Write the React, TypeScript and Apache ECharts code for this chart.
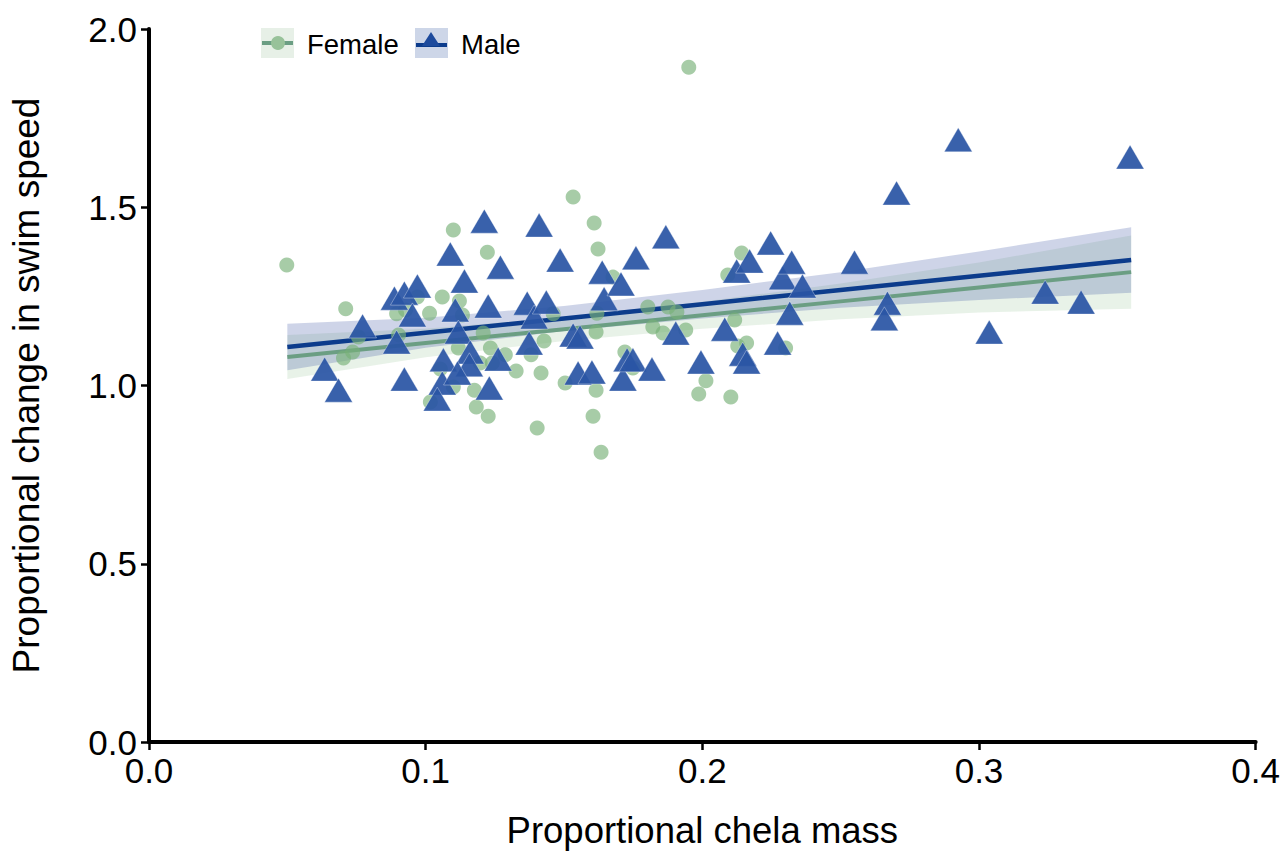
import React, { useEffect, useRef } from "react";
import * as echarts from "echarts";

// ---- Data ----
const femaleX = [0.0498, 0.0711, 0.0703, 0.0736, 0.0757, 0.0902, 0.0895, 0.0927, 0.097, 0.106, 0.1014, 0.11, 0.1133, 0.1122, 0.1053, 0.1017, 0.11, 0.1118, 0.1176, 0.1183, 0.1226, 0.1197, 0.1234, 0.1241, 0.1288, 0.1223, 0.1208, 0.1327, 0.1381, 0.1417, 0.1428, 0.1403, 0.1461, 0.1504, 0.1533, 0.1609, 0.1623, 0.1619, 0.1616, 0.1616, 0.1605, 0.1634, 0.1677, 0.172, 0.1749, 0.1803, 0.1821, 0.1858, 0.1876, 0.1908, 0.194, 0.1951, 0.1987, 0.2013, 0.2092, 0.2117, 0.2103, 0.2128, 0.2142, 0.216, 0.2301];
const femaleY = [1.338, 1.215, 1.077, 1.094, 1.136, 1.142, 1.201, 1.212, 1.248, 1.248, 1.203, 1.436, 1.198, 1.237, 1.046, 0.954, 0.996, 1.105, 0.987, 0.94, 0.914, 1.063, 1.105, 1.063, 1.086, 1.374, 1.147, 1.041, 1.086, 1.035, 1.125, 0.881, 1.201, 1.007, 1.529, 1.456, 1.383, 1.203, 1.15, 0.987, 0.914, 0.813, 1.304, 1.094, 1.049, 1.22, 1.164, 1.147, 1.22, 1.206, 1.156, 1.893, 0.976, 1.013, 1.31, 1.184, 0.968, 1.111, 1.372, 1.119, 1.105];

const maleX = [0.0635, 0.0685, 0.0772, 0.0887, 0.0923, 0.097, 0.0952, 0.0895, 0.0923, 0.1064, 0.106, 0.1042, 0.1089, 0.114, 0.1107, 0.1118, 0.1161, 0.1158, 0.1115, 0.1212, 0.1226, 0.127, 0.123, 0.1262, 0.1367, 0.1392, 0.1374, 0.141, 0.1436, 0.1486, 0.1533, 0.1558, 0.1551, 0.1601, 0.1638, 0.1645, 0.1706, 0.1728, 0.1713, 0.1749, 0.176, 0.1818, 0.1868, 0.1904, 0.1995, 0.2081, 0.2124, 0.2171, 0.2146, 0.216, 0.2247, 0.2272, 0.229, 0.2323, 0.2316, 0.2362, 0.255, 0.2669, 0.2658, 0.2702, 0.2925, 0.3037, 0.3239, 0.3369, 0.3546];
const maleY = [1.046, 0.987, 1.167, 1.245, 1.259, 1.279, 1.198, 1.122, 1.018, 1.072, 1.007, 0.962, 1.369, 1.293, 1.212, 1.15, 1.094, 1.058, 1.035, 1.461, 1.223, 1.332, 0.993, 1.074, 1.231, 1.192, 1.119, 1.45, 1.234, 1.352, 1.142, 1.136, 1.035, 1.038, 1.318, 1.243, 1.285, 1.072, 1.018, 1.072, 1.358, 1.046, 1.417, 1.147, 1.066, 1.158, 1.321, 1.349, 1.088, 1.066, 1.4, 1.119, 1.302, 1.346, 1.203, 1.279, 1.346, 1.231, 1.187, 1.54, 1.689, 1.15, 1.262, 1.234, 1.641];

const fitX = [0.05, 0.1, 0.15, 0.2, 0.25, 0.3, 0.355];
const maleFit = [1.108, 1.148, 1.188, 1.228, 1.268, 1.308, 1.352];
const maleLo = [1.043, 1.106, 1.153, 1.188, 1.218, 1.24, 1.26];
const maleHi = [1.173, 1.19, 1.223, 1.268, 1.318, 1.376, 1.444];
const femaleFit = [1.08, 1.119, 1.158, 1.197, 1.236, 1.275, 1.318];
const femaleLo = [1.018, 1.079, 1.125, 1.159, 1.186, 1.205, 1.215];
const femaleHi = [1.142, 1.159, 1.191, 1.235, 1.286, 1.345, 1.421];

const xTicks = [0, 0.1, 0.2, 0.3, 0.4];
const yTicks = [0, 0.5, 1, 1.5, 2];
const seriesNames = ["Female", "Male"];
const xTitle = "Proportional chela mass";
const yTitle = "Proportional change in swim speed";

const FONT = "'Liberation Sans', Arial, Helvetica, sans-serif";
const F_POINT = "#78b078";
const M_POINT = "#2a55a5";
const F_LINE = "#6b9e83";
const M_LINE = "#0c3c8c";
const F_BAND = "rgba(120,180,120,0.17)";
const M_BAND = "rgba(30,60,150,0.22)";

const zip = (a: number[], b: number[]) => a.map((v, i) => [v, b[i]]);

function bandSeries(lo: number[], hi: number[], color: string, z: number) {
  return {
    type: "custom",
    silent: true,
    z,
    data: fitX.map((x, i) => [x, lo[i], hi[i]]),
    encode: { x: 0, y: [1, 2] },
    renderItem: (params: any, api: any) => {
      if (params.dataIndex !== 0) return null;
      const top = fitX.map((x, i) => api.coord([x, hi[i]]));
      const bot = fitX.map((x, i) => api.coord([x, lo[i]])).reverse();
      return {
        type: "polygon",
        shape: { points: top.concat(bot) },
        style: { fill: color },
      };
    },
  };
}

export default function App() {
  const ref = useRef<HTMLDivElement>(null);
  useEffect(() => {
    if (!ref.current) return;
    const chart = echarts.init(ref.current, undefined, { renderer: "svg" });
    const axisCommon = {
      type: "value" as const,
      splitLine: { show: false },
      axisLine: { show: true, lineStyle: { color: "#000", width: 4 } },
      axisTick: { show: true, inside: false, length: 8, lineStyle: { color: "#000", width: 2.5 } },
      axisLabel: {
        color: "#000",
        fontSize: 35,
        fontFamily: FONT,
        margin: 12,
        formatter: (v: number) => v.toFixed(1),
      },
      nameLocation: "middle" as const,
    };
    chart.setOption({
      animation: false,
      backgroundColor: "#fff",
      grid: { left: 148, right: 26, top: 29, bottom: 114, containLabel: false },
      xAxis: {
        ...axisCommon,
        min: xTicks[0],
        max: xTicks[xTicks.length - 1],
        interval: 0.1,
        name: xTitle,
        nameGap: 70,
        nameTextStyle: { color: "#000", fontSize: 36.5, fontFamily: FONT },
        axisLabel: { ...axisCommon.axisLabel, margin: 11 },
      },
      yAxis: {
        ...axisCommon,
        min: yTicks[0],
        max: yTicks[yTicks.length - 1],
        interval: 0.5,
        name: yTitle,
        nameGap: 104,
        nameTextStyle: { color: "#000", fontSize: 37, fontFamily: FONT },
      },
      series: [
        bandSeries(femaleLo, femaleHi, F_BAND, 1),
        bandSeries(maleLo, maleHi, M_BAND, 1),
        {
          type: "line",
          name: "fFit",
          data: zip(fitX, femaleFit),
          symbol: "none",
          lineStyle: { color: F_LINE, width: 4 },
          z: 2,
        },
        {
          type: "line",
          name: "mFit",
          data: zip(fitX, maleFit),
          symbol: "none",
          lineStyle: { color: M_LINE, width: 4.5 },
          z: 3,
        },
        {
          type: "scatter",
          name: seriesNames[0],
          data: zip(femaleX, femaleY),
          symbol: "circle",
          symbolSize: 15,
          itemStyle: { color: F_POINT, opacity: 0.65 },
          z: 4,
        },
        {
          type: "scatter",
          name: seriesNames[1],
          data: zip(maleX, maleY),
          symbol: "triangle",
          symbolSize: [28, 24],
          itemStyle: { color: M_POINT, opacity: 0.93, borderColor: "rgba(255,255,255,0.6)", borderWidth: 0.6 },
          z: 5,
        },
      ],
      graphic: [
        { type: "rect", shape: { x: 261, y: 28, width: 33, height: 30 }, style: { fill: "#e7f0e7" } },
        { type: "line", shape: { x1: 262, y1: 43, x2: 293, y2: 43 }, style: { stroke: F_LINE, lineWidth: 4 } },
        { type: "circle", shape: { cx: 278, cy: 43, r: 7 }, style: { fill: "#98c29a" } },
        {
          type: "text",
          x: 307,
          y: 44,
          style: { text: seriesNames[0], fill: "#000", fontSize: 27.5, fontFamily: FONT, verticalAlign: "middle" },
        },
        { type: "rect", shape: { x: 415, y: 28, width: 33, height: 30 }, style: { fill: "#cdd6e8" } },
        { type: "line", shape: { x1: 416, y1: 45, x2: 447, y2: 45 }, style: { stroke: M_LINE, lineWidth: 4 } },
        {
          type: "polygon",
          shape: { points: [[431, 32], [440, 46], [422, 46]] },
          style: { fill: "#1d4a9c" },
        },
        {
          type: "text",
          x: 461,
          y: 44,
          style: { text: seriesNames[1], fill: "#000", fontSize: 27.5, fontFamily: FONT, verticalAlign: "middle" },
        },
      ],
    });
    return () => chart.dispose();
  }, []);
  return <div ref={ref} style={{ width: 1283, height: 856, position: "absolute", left: 0, top: 0 }} />;
}
